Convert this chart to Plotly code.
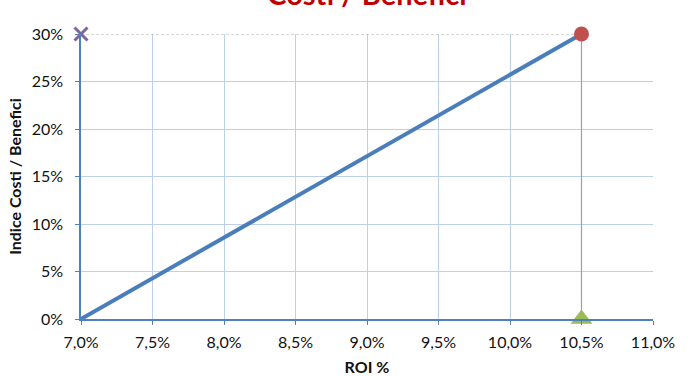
import plotly.graph_objects as go

roi_line = [0.070, 0.105]
ratio_line = [0.0, 0.30]
point_x = [0.105]
point_y = [0.30]
cross_x = [0.070]
cross_y = [0.30]
tri_x = [0.105]
tri_y = [0.0]
x_ticks = [0.070, 0.075, 0.080, 0.085, 0.090, 0.095, 0.100, 0.105, 0.110]
y_ticks = [0.0, 0.05, 0.10, 0.15, 0.20, 0.25, 0.30]

fig = go.Figure()
# guide lines
fig.add_trace(go.Scatter(x=[cross_x[0], point_x[0]], y=[cross_y[0], point_y[0]], mode="lines",
                         line=dict(color="#b0b0b0", width=1.2, dash="3px,2px"), hoverinfo="skip", cliponaxis=False))
fig.add_trace(go.Scatter(x=[point_x[0], tri_x[0]], y=[point_y[0], tri_y[0]], mode="lines",
                         line=dict(color="#a0a0a0", width=1.2), hoverinfo="skip", cliponaxis=False))
fig.add_trace(go.Scatter(x=roi_line, y=ratio_line, mode="lines",
                         line=dict(color="#4a7ebb", width=4), cliponaxis=False))
fig.add_trace(go.Scatter(x=point_x, y=point_y, mode="markers",
                         marker=dict(color="#c0504d", size=15, symbol="circle"), cliponaxis=False))
fig.add_trace(go.Scatter(x=cross_x, y=cross_y, mode="markers",
                         marker=dict(color="#8064a2", size=13, symbol="x-thin",
                                     line=dict(color="#8064a2", width=3)), cliponaxis=False))
fig.add_trace(go.Scatter(x=tri_x, y=tri_y, mode="markers",
                         marker=dict(color="#9bbb59", size=19, symbol="triangle-up"), cliponaxis=False))

fig.update_layout(
    width=691, height=376,
    margin=dict(l=81, r=38, t=34, b=57, autoexpand=False),
    paper_bgcolor="white", plot_bgcolor="white",
    showlegend=False,
    separators=",.",
    font=dict(family="Lato, Carlito, sans-serif", size=16, color="#111111"),
    title=dict(text="<b>Costi / Benefici</b>", x=0.531, xanchor="center",
               y=1 - 5/376, yanchor="bottom", yref="container",
               font=dict(size=29, color="#c00000", family="Lato, sans-serif")),
)
fig.update_xaxes(range=[0.070, 0.110], tickvals=x_ticks, tickformat=".1%",
                 showgrid=True, gridcolor="#bdd0ea", gridwidth=1,
                 showline=True, linecolor="#4f81bd", linewidth=1.5,
                 ticks="outside", ticklen=4, tickcolor="#4f81bd",
                 ticklabelstandoff=4,
                 zeroline=False, mirror=False, automargin=False,
                 title=dict(text="<b>ROI %</b>", standoff=15, font=dict(size=16)))
fig.update_yaxes(range=[0.0, 0.30], tickvals=y_ticks, tickformat=".0%",
                 showgrid=True, gridcolor="#bdd0ea", gridwidth=1,
                 showline=True, linecolor="#4f81bd", linewidth=1.5,
                 ticks="outside", ticklen=4, tickcolor="#4f81bd",
                 ticklabelstandoff=9,
                 zeroline=False, automargin=False,
                 title=dict(text="<b>Indice Costi / Benefici</b>", standoff=6, font=dict(size=16)))
fig.write_html("out.html", config={"displayModeBar": False},
               post_script="document.body.style.margin='0';document.body.style.overflow='hidden';")
